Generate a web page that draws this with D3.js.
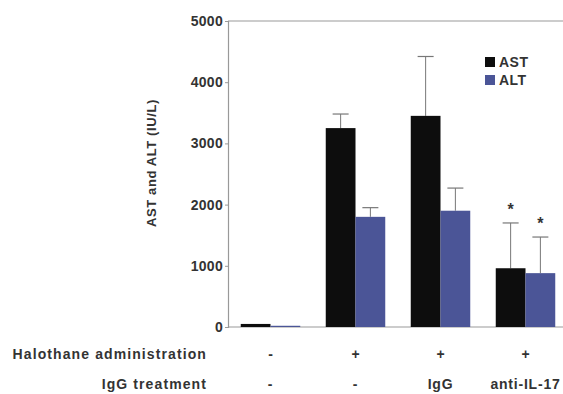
<!DOCTYPE html>
<html>
<head>
<meta charset="utf-8">
<script src="https://cdn.jsdelivr.net/npm/d3@7"></script>
<style>
  body { margin: 0; background: #fff; }
  svg text { font-family: "Liberation Sans", Arial, sans-serif; font-weight: bold; fill: #333; }
</style>
</head>
<body>
<div id="chart"></div>
<script>
// Data
const groups = ["g1", "g2", "g3", "g4"];
const series = ["AST", "ALT"];
const astMean = [50, 3250, 3450, 960];
const astErr = [0, 230, 970, 740];
const altMean = [20, 1800, 1900, 880];
const altErr = [0, 150, 370, 590];
const starred = [false, false, false, true];
const halothaneLabels = ["-", "+", "+", "+"];
const iggLabels = ["-", "-", "IgG", "anti-IL-17"];
const yTicks = [0, 1000, 2000, 3000, 4000, 5000];

const colors = { AST: "#0d0d0d", ALT: "#4b5597" };

const W = 563, H = 394;
const margin = { top: 21, right: 0, bottom: 67, left: 228 };
const width = W - margin.left - margin.right,
      height = H - margin.top - margin.bottom;

const svg = d3.select("#chart").append("svg")
    .attr("width", W).attr("height", H);

const g = svg.append("g")
    .attr("transform", `translate(${margin.left},${margin.top})`);

// Scales
const x = d3.scaleBand().domain(groups).range([0, 340]).paddingInner(0.3).paddingOuter(0.15);
const y = d3.scaleLinear().domain([0, 5000]).range([height, 0]);
const xs = d3.scaleBand().domain(series).range([0, x.bandwidth()]);

// Data rows
const rows = [];
groups.forEach((grp, i) => {
    rows.push({ grp, s: "AST", v: astMean[i], e: astErr[i], star: starred[i] });
    rows.push({ grp, s: "ALT", v: altMean[i], e: altErr[i], star: starred[i] });
});

// Top frame line
g.append("line")
    .attr("x1", 0).attr("x2", width)
    .attr("y1", 0).attr("y2", 0)
    .attr("stroke", "#999").attr("stroke-width", 1.2);

// Bottom line
g.append("line")
    .attr("x1", 0).attr("x2", width)
    .attr("y1", height).attr("y2", height)
    .attr("stroke", "#999").attr("stroke-width", 1.2);

// Y axis
const yAxis = g.append("g")
    .call(d3.axisLeft(y).tickValues(yTicks).tickFormat(d3.format("d")).tickSize(3).tickPadding(2));
yAxis.select(".domain").attr("stroke", "#999").attr("stroke-width", 1.2);
yAxis.selectAll(".tick line").attr("stroke", "#999");
yAxis.selectAll("text")
    .style("font-size", "14px")
    .style("letter-spacing", "0.3px")
    .style("font-family", "'Liberation Sans', Arial, sans-serif")
    .style("font-weight", "bold")
    .attr("fill", "#333");

// Y label
svg.append("text")
    .attr("transform", `translate(156,${margin.top + 142}) rotate(-90)`)
    .attr("text-anchor", "middle")
    .style("font-size", "13px")
    .style("letter-spacing", "0.6px")
    .text("AST and ALT (IU/L)");

// Error bars (drawn behind bars)
const err = g.selectAll(".err")
    .data(rows.filter(d => d.e > 0))
    .enter().append("g").attr("class", "err");
err.append("line")
    .attr("x1", d => x(d.grp) + xs(d.s) + xs.bandwidth() / 2)
    .attr("x2", d => x(d.grp) + xs(d.s) + xs.bandwidth() / 2)
    .attr("y1", d => y(d.v))
    .attr("y2", d => y(d.v + d.e))
    .attr("stroke", "#777").attr("stroke-width", 1);
err.append("line")
    .attr("x1", d => x(d.grp) + xs(d.s) + xs.bandwidth() / 2 - 8)
    .attr("x2", d => x(d.grp) + xs(d.s) + xs.bandwidth() / 2 + 8)
    .attr("y1", d => y(d.v + d.e))
    .attr("y2", d => y(d.v + d.e))
    .attr("stroke", "#777").attr("stroke-width", 1.2);

// Bars
g.selectAll(".bar")
    .data(rows)
    .enter().append("rect")
    .attr("class", "bar")
    .attr("x", d => x(d.grp) + xs(d.s))
    .attr("y", d => y(d.v))
    .attr("width", xs.bandwidth())
    .attr("height", d => height - y(d.v))
    .attr("fill", d => colors[d.s]);

// Significance stars
g.selectAll(".star")
    .data(rows.filter(d => d.star))
    .enter().append("text")
    .attr("class", "star")
    .attr("x", d => x(d.grp) + xs(d.s) + xs.bandwidth() / 2)
    .attr("y", d => y(d.v + d.e) - 8)
    .attr("text-anchor", "middle")
    .style("font-size", "16px")
    .attr("fill", "#222")
    .text("*");

// Legend
const legend = g.append("g").attr("transform", "translate(257,46)");
series.forEach((s, i) => {
    legend.append("rect")
        .attr("x", 0).attr("y", i * 18 - 10)
        .attr("width", 10).attr("height", 10)
        .attr("fill", colors[s]);
    legend.append("text")
        .attr("x", 14).attr("y", i * 18)
        .style("font-size", "14px")
        .style("letter-spacing", "0.5px")
        .text(s);
});

// Bottom table labels
const rowsY = [359, 389];
const labelRight = 207;
svg.append("text")
    .attr("x", labelRight).attr("y", rowsY[0])
    .attr("text-anchor", "end")
    .style("font-size", "14px")
    .style("letter-spacing", "1.1px")
    .text("Halothane administration");
svg.append("text")
    .attr("x", labelRight).attr("y", rowsY[1])
    .attr("text-anchor", "end")
    .style("font-size", "14px")
    .style("letter-spacing", "1.1px")
    .text("IgG treatment");

groups.forEach((grp, i) => {
    const cx = margin.left + x(grp) + x.bandwidth() / 2;
    svg.append("text")
        .attr("x", cx).attr("y", rowsY[0])
        .attr("text-anchor", "middle")
        .style("font-size", "14px")
        .text(halothaneLabels[i]);
    svg.append("text")
        .attr("x", cx).attr("y", rowsY[1])
        .attr("text-anchor", "middle")
        .style("font-size", "14px")
        .style("letter-spacing", "0.8px")
        .text(iggLabels[i]);
});
</script>
</body>
</html>
